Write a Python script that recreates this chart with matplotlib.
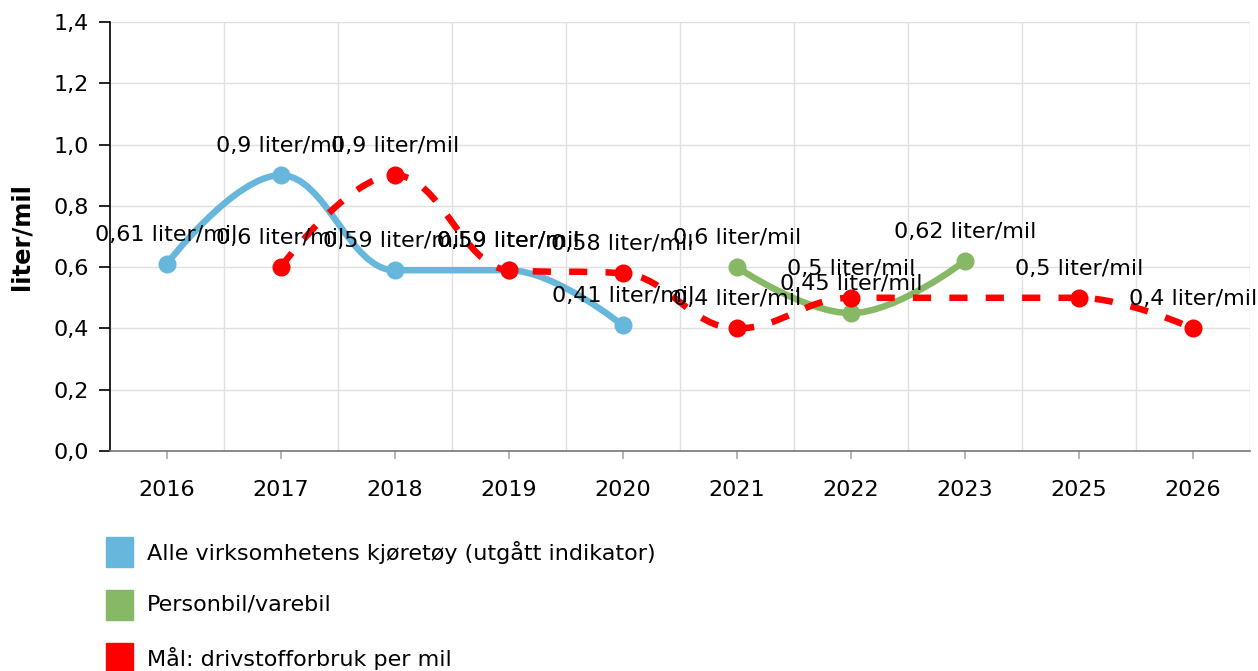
import matplotlib
matplotlib.use("Agg")
import matplotlib.pyplot as plt
from matplotlib.path import Path
from matplotlib.patches import PathPatch, Rectangle
from matplotlib.ticker import FuncFormatter
import numpy as np

# categories on the x axis (2024 is not in the chart)
years = ["2016", "2017", "2018", "2019", "2020", "2021", "2022", "2023", "2025", "2026"]

# series values, None where a series has no point
alle = [0.61, 0.9, 0.59, 0.59, 0.41, None, None, None, None, None]
personbil = [None, None, None, None, None, 0.6, 0.45, 0.62, None, None]
maal = [None, 0.6, 0.9, 0.59, 0.58, 0.4, 0.5, None, 0.5, 0.4]

names = ["Alle virksomhetens kjøretøy (utgått indikator)",
         "Personbil/varebil",
         "Mål: drivstofforbruk per mil"]
colors = ["#67b7dc", "#86b865", "#ff0000"]
unit = "liter/mil"

plt.rcParams['font.family'] = ['DejaVu Sans']
FS = 16


def spline_path(xs, ys, smoothing=1.5):
    # same control points as a highcharts spline
    denom = smoothing + 1
    n = len(xs)
    right = [None] * n
    verts = [(xs[0], ys[0])]
    codes = [Path.MOVETO]
    for i in range(1, n):
        px, py = xs[i], ys[i]
        lcx, lcy = px, py
        if i < n - 1:
            lx, ly = xs[i - 1], ys[i - 1]
            nx, ny = xs[i + 1], ys[i + 1]
            lcx = (smoothing * px + lx) / denom
            lcy = (smoothing * py + ly) / denom
            rcx = (smoothing * px + nx) / denom
            rcy = (smoothing * py + ny) / denom
            corr = 0
            if rcx != lcx:
                corr = (rcy - lcy) * (rcx - px) / (rcx - lcx) + py - rcy
            lcy += corr
            rcy += corr
            if lcy > ly and lcy > py:
                lcy = max(ly, py)
                rcy = 2 * py - lcy
            elif lcy < ly and lcy < py:
                lcy = min(ly, py)
                rcy = 2 * py - lcy
            if rcy > ny and rcy > py:
                rcy = max(ny, py)
                lcy = 2 * py - rcy
            elif rcy < ny and rcy < py:
                rcy = min(ny, py)
                lcy = 2 * py - rcy
            right[i] = (rcx, rcy)
        prev = right[i - 1] if right[i - 1] is not None else (xs[i - 1], ys[i - 1])
        verts += [prev, (lcx, lcy), (px, py)]
        codes += [Path.CURVE4] * 3
    return Path(verts, codes)


fig = plt.figure(figsize=(12.58, 6.71), dpi=100)
ax = fig.add_axes([109.5 / 1258, 1 - 451 / 671, (1250 - 109.5) / 1258, (451 - 22) / 671])

x = np.arange(len(years))
ax.set_xlim(-0.5, len(years) - 0.5)
ax.set_ylim(0, 1.4)

all_series = [alle, personbil, maal]
lw = 6.5 / 1.389
for k, (vals, col) in enumerate(zip(all_series, colors)):
    xs = [x[i] for i, v in enumerate(vals) if v is not None]
    ys = [v for v in vals if v is not None]
    patch = PathPatch(spline_path(xs, ys), facecolor='none', edgecolor=col,
                      lw=lw, zorder=3 + k, capstyle='butt', joinstyle='round')
    if k == 2:
        patch.set_linestyle((0, (2.8, 2.8)))
    ax.add_patch(patch)
    ax.plot(xs, ys, 'o', color=col, ms=13, zorder=3 + k, mec='none')

# data labels on top of every line
for vals in all_series:
    for i, v in enumerate(vals):
        if v is None:
            continue
        ax.annotate(str(v).replace('.', ',') + " " + unit, (x[i], v),
                    xytext=(0, 29), textcoords='offset pixels',
                    ha='center', va='center', fontsize=FS, zorder=10)

# grid: horizontal at ticks, vertical between categories
ax.set_yticks(np.arange(0, 1.41, 0.2))
ax.yaxis.set_major_formatter(FuncFormatter(lambda v, p: f"{v:.1f}".replace('.', ',')))
ax.set_xticks(x)
ax.set_xticklabels(years)
for yv in np.arange(0.2, 1.41, 0.2):
    ax.axhline(yv, color='#e0e0e0', lw=1, zorder=1)
for xv in np.arange(0.5, len(years), 1.0):
    ax.axvline(xv, color='#e0e0e0', lw=1, zorder=1)

for s in ['top', 'right']:
    ax.spines[s].set_visible(False)
ax.spines['left'].set_color('black')
ax.spines['left'].set_linewidth(1.2)
ax.spines['bottom'].set_color('#777777')
ax.spines['bottom'].set_linewidth(1.2)
ax.tick_params(axis='y', length=8, width=1.2, color='black', labelsize=FS, pad=7)
ax.tick_params(axis='x', length=6, width=1.2, color='#aaaaaa', labelsize=FS, pad=15)
ax.set_ylabel(unit, fontsize=17.5, fontweight='bold', labelpad=14)

# legend drawn by hand, one item per row
for k, (nm, col) in enumerate(zip(names, colors)):
    yc = 552 + 53 * k
    fig.add_artist(Rectangle((106 / 1258, 1 - (yc + 15) / 671), 27 / 1258, 30 / 671,
                             transform=fig.transFigure, color=col))
    fig.text(147 / 1258, 1 - yc / 671, nm, fontsize=FS, va='center', ha='left')

fig.savefig("out.png", dpi=100)
